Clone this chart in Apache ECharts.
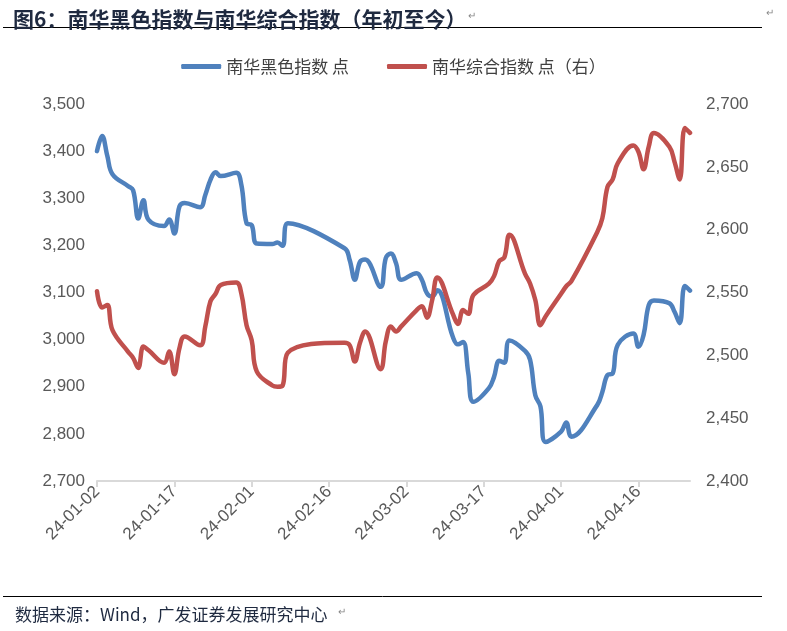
<!DOCTYPE html>
<html><head><meta charset="utf-8">
<script src="https://cdn.jsdelivr.net/npm/echarts@6/dist/echarts.min.js"></script>
<style>html,body{margin:0;padding:0;background:#fff}#c{width:787px;height:631px}</style>
</head><body><div id="c"></div>
<script>
const dates = [
'2024-01-02','2024-01-03','2024-01-04','2024-01-05','2024-01-08','2024-01-09','2024-01-10','2024-01-11','2024-01-12',
'2024-01-15','2024-01-16','2024-01-17','2024-01-18','2024-01-19','2024-01-22','2024-01-23','2024-01-24','2024-01-25','2024-01-26',
'2024-01-29','2024-01-30','2024-01-31','2024-02-01','2024-02-02','2024-02-05','2024-02-06','2024-02-07','2024-02-08',
'2024-02-19','2024-02-20','2024-02-21','2024-02-22','2024-02-23','2024-02-26','2024-02-27','2024-02-28','2024-02-29','2024-03-01',
'2024-03-04','2024-03-05','2024-03-06','2024-03-07','2024-03-08','2024-03-11','2024-03-12','2024-03-13','2024-03-14','2024-03-15',
'2024-03-18','2024-03-19','2024-03-20','2024-03-21','2024-03-22','2024-03-25','2024-03-26','2024-03-27','2024-03-28','2024-03-29',
'2024-04-01','2024-04-02','2024-04-03','2024-04-08','2024-04-09','2024-04-10','2024-04-11','2024-04-12',
'2024-04-15','2024-04-16','2024-04-17','2024-04-18','2024-04-19','2024-04-22','2024-04-23','2024-04-24','2024-04-25','2024-04-26'
];
const blackIndex = [
3400,3432,3390,3351,3326,3317,3257,3296,3254,
3241,3255,3225,3283,3290,3281,3307,3339,3355,3347,
3354,3328,3247,3243,3204,3203,3206,3199,3247,
3194,3169,3127,3165,3170,3112,3173,3183,3162,3127,
3141,3127,3098,3091,3105,3006,2990,2995,2929,2868,
2897,2921,2955,2951,2998,2976,2957,2882,2858,2783,
2805,2824,2794,2861,2889,2925,2928,2989,
3013,2985,3010,3073,3083,3077,3059,3035,3114,3104
];
const compositeIndex = [
2551,2538,2540,2520,2503,2498,2490,2507,2504,
2494,2503,2485,2506,2515,2508,2523,2543,2549,2556,
2558,2549,2524,2512,2487,2476,2475,2476,2502,
2510,2508,2495,2510,2519,2489,2511,2523,2519,2523,
2536,2539,2530,2544,2562,2533,2525,2536,2533,2548,
2557,2563,2575,2578,2596,2565,2557,2544,2524,2531,
2549,2555,2559,2598,2609,2634,2640,2653,
2667,2662,2648,2666,2677,2666,2654,2640,2681,2677
];
const xTickLabels = ['24-01-02','24-01-17','24-02-01','24-02-16','24-03-02','24-03-17','24-04-01','24-04-16'];
const xEndDate = '2024-04-26';
const seriesNames = ['南华黑色指数 点','南华综合指数 点（右）'];
const titleText = '图6：南华黑色指数与南华综合指数（年初至今）';
const sourceText = '数据来源：Wind，广发证券发展研究中心';

const DAY = 86400000;
const t0 = Date.UTC(2024,0,2);
function dayIdx(s){const p=s.split('-').map(Number);return Math.round((Date.UTC(p[0],p[1]-1,p[2])-t0)/DAY);}
const tickVals = xTickLabels.map(l=>dayIdx('20'+l));
const labelMap = {}; tickVals.forEach((v,i)=>labelMap[v]=xTickLabels[i]);
const blackData = dates.map((d,i)=>[dayIdx(d),blackIndex[i]]);
const compData = dates.map((d,i)=>[dayIdx(d),compositeIndex[i]]);
const fmt = v=>v.toLocaleString('en-US');

const chart = echarts.init(document.getElementById('c'));
chart.setOption({
  animation:false,
  textStyle:{fontFamily:'"Liberation Sans", Arial, sans-serif'},
  title:[
    {text:titleText,left:8,top:4,textStyle:{fontSize:21,fontWeight:'bold',color:'#1f2a40',fontFamily:'"Noto Sans CJK SC", sans-serif'}},
    {text:sourceText,left:10,top:601,textStyle:{fontSize:17,fontWeight:'normal',color:'#1f2a40',fontFamily:'"Noto Sans CJK SC", sans-serif'}}
  ],
  graphic:[
    {type:'line',shape:{x1:3,y1:27.5,x2:762,y2:27.5},style:{stroke:'#000',lineWidth:1}},
    {type:'line',shape:{x1:3,y1:596.5,x2:762,y2:596.5},style:{stroke:'#000',lineWidth:1}},
    {type:'text',left:468,top:11,style:{text:'↵',fontSize:10,fill:'#888'}},
    {type:'text',left:766,top:8,style:{text:'↵',fontSize:10,fill:'#888'}},
    {type:'text',left:338,top:607,style:{text:'↵',fontSize:10,fill:'#888'}}
  ],
  legend:{
    top:53,left:'center',itemWidth:40,itemHeight:5,itemGap:38,icon:'roundRect',
    textStyle:{fontSize:17,color:'#404040',fontFamily:'"Noto Sans CJK SC", sans-serif'},
    data:seriesNames
  },
  grid:{left:97,right:97,top:104,bottom:150},
  xAxis:{
    type:'value',min:0,max:dayIdx(xEndDate),
    splitLine:{show:false},
    axisLine:{show:true,lineStyle:{color:'#d9d9d9',width:2}},
    axisTick:{show:true,customValues:tickVals,length:6,lineStyle:{color:'#d9d9d9',width:2}},
    axisLabel:{customValues:tickVals,rotate:45,fontSize:17,color:'#595959',margin:8,formatter:v=>labelMap[v]||''}
  },
  yAxis:[
    {type:'value',min:2700,max:3500,interval:100,splitLine:{show:false},axisLine:{show:false},axisTick:{show:false},
     axisLabel:{fontSize:17,color:'#595959',margin:12,formatter:fmt}},
    {type:'value',min:2400,max:2700,interval:50,splitLine:{show:false},axisLine:{show:false},axisTick:{show:false},
     axisLabel:{fontSize:17,color:'#595959',margin:16,formatter:fmt}}
  ],
  series:[
    {name:seriesNames[0],type:'line',yAxisIndex:0,data:blackData,smooth:0.4,symbol:'none',
     lineStyle:{color:'#4f81bd',width:4.5,cap:'round',join:'round'},itemStyle:{color:'#4f81bd'}},
    {name:seriesNames[1],type:'line',yAxisIndex:1,data:compData,smooth:0.4,symbol:'none',
     lineStyle:{color:'#c0504d',width:4.5,cap:'round',join:'round'},itemStyle:{color:'#c0504d'}}
  ]
});
</script></body></html>
